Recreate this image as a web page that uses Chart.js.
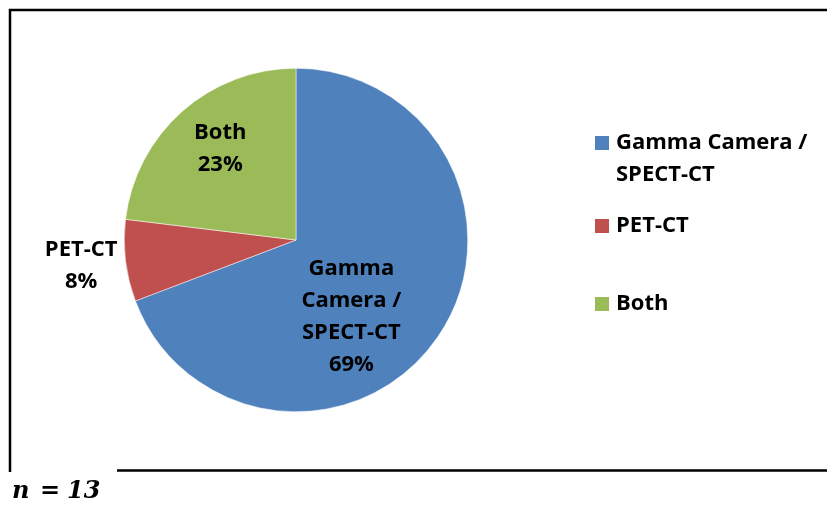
<!DOCTYPE html>
<html>
<head>
<meta charset="utf-8">
<script src="https://cdn.jsdelivr.net/npm/chart.js@4"></script>
<style>
  html, body { margin: 0; padding: 0; background: #fff; }
  #wrap { position: relative; width: 827px; height: 505px; }
  canvas { display: block; }
</style>
</head>
<body>
<div id="wrap"><canvas id="c" width="827" height="505"></canvas></div>
<script>
// ---- data ----
const categories = ["Gamma Camera / SPECT-CT", "PET-CT", "Both"];
const legendLines = [["Gamma Camera /", "SPECT-CT"], ["PET-CT"], ["Both"]];
const labelLines = [["Gamma", "Camera /", "SPECT-CT"], ["PET-CT"], ["Both"]];
const counts = [9, 1, 3];           // n = 13
const colors = ["#4F81BD", "#C0504D", "#9BBB59"];
const sampleNote = "n = 13";

const FONT = 'bold 22px "Open Sans", "Liberation Sans", sans-serif';
const LINE_H = 32;

// label placement (polar, relative to each arc): radial fraction and angle tweak (deg)
const labelPlace = [
  { rf: 0.55, da: 19.5 },
  { rf: 1.26, da: 0 },
  { rf: 0.69, da: 1.8 }
];

const overlay = {
  id: 'overlay',
  afterDatasetsDraw(chart) {
    const ctx = chart.ctx;
    const meta = chart.getDatasetMeta(0);
    const total = counts.reduce((a, b) => a + b, 0);
    ctx.save();
    ctx.font = FONT;
    ctx.fillStyle = '#000';
    ctx.textAlign = 'center';
    ctx.textBaseline = 'middle';
    meta.data.forEach((arc, i) => {
      const p = arc.getProps(['x', 'y', 'startAngle', 'endAngle', 'outerRadius'], true);
      const mid = (p.startAngle + p.endAngle) / 2 + labelPlace[i].da * Math.PI / 180;
      const r = p.outerRadius * labelPlace[i].rf;
      const cx = p.x + Math.cos(mid) * r;
      const cy = p.y + Math.sin(mid) * r;
      const pct = Math.round(counts[i] / total * 100) + '%';
      const lines = labelLines[i].concat([pct]);
      const y0 = cy - (lines.length - 1) * LINE_H / 2;
      lines.forEach((t, k) => ctx.fillText(t, cx, y0 + k * LINE_H));
    });

    // legend
    const legendX = 595, textX = 616;
    const itemY = [143, 226, 304];
    ctx.textAlign = 'left';
    legendLines.forEach((lines, i) => {
      ctx.fillStyle = colors[i];
      ctx.fillRect(legendX, itemY[i] - 7, 14, 14);
      ctx.fillStyle = '#000';
      lines.forEach((t, k) => ctx.fillText(t, textX, itemY[i] + k * LINE_H));
    });

    // frame
    ctx.strokeStyle = '#000';
    ctx.lineWidth = 2.5;
    ctx.beginPath();
    ctx.moveTo(10, 472); ctx.lineTo(10, 10); ctx.lineTo(827, 10);
    ctx.stroke();
    ctx.beginPath();
    ctx.moveTo(117, 470.5); ctx.lineTo(827, 470.5);
    ctx.stroke();

    // n = 13
    ctx.font = 'bold italic 24px "DejaVu Serif", "Liberation Serif", serif';
    ctx.textBaseline = 'alphabetic';
    const parts = sampleNote.split(' ');
    ctx.fillText(parts[0], 12, 498);
    ctx.fillText(parts[1], 40, 498);
    ctx.fillText(parts[2], 67, 498);
    ctx.restore();
  }
};

new Chart(document.getElementById('c'), {
  type: 'pie',
  data: {
    labels: categories,
    datasets: [{
      data: counts,
      backgroundColor: colors,
      borderColor: '#ffffff',
      borderWidth: 0.5
    }]
  },
  options: {
    responsive: false,
    animation: false,
    layout: { padding: { left: 124, right: 359, top: 68, bottom: 93 } },
    plugins: { legend: { display: false }, tooltip: { enabled: false } }
  },
  plugins: [overlay]
});
</script>
</body>
</html>
